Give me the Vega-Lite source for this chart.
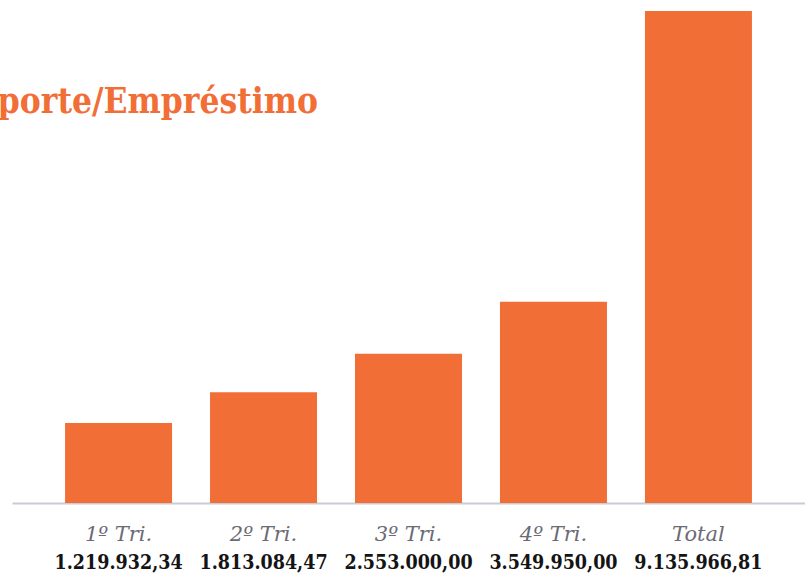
{
  "$schema": "https://vega.github.io/schema/vega-lite/v6.json",
  "width": 793,
  "height": 492,
  "autosize": {"type": "none"},
  "padding": {"left": 12, "top": 11, "right": 0, "bottom": 71},
  "background": "white",
  "config": {"view": {"stroke": null}},
  "title": {
    "text": "Aporte/Empréstimo",
    "anchor": "start",
    "align": "right",
    "frame": "group",
    "dx": 306,
    "dy": 137,
    "offset": 0,
    "baseline": "alphabetic",
    "font": "DejaVu Serif Condensed",
    "fontWeight": "bold",
    "fontSize": 35,
    "color": "#F26E37"
  },
  "data": {
    "values": [
      {"periodo": "1º Tri.", "valor": 1219932.34, "rotulo": "1.219.932,34"},
      {"periodo": "2º Tri.", "valor": 1813084.47, "rotulo": "1.813.084,47"},
      {"periodo": "3º Tri.", "valor": 2553000.00, "rotulo": "2.553.000,00"},
      {"periodo": "4º Tri.", "valor": 3549950.00, "rotulo": "3.549.950,00"},
      {"periodo": "Total", "valor": 9135966.81, "rotulo": "9.135.966,81"}
    ]
  },
  "layer": [
    {
      "mark": {"type": "bar", "color": "#F26E37"},
      "encoding": {
        "x": {
          "field": "periodo",
          "type": "nominal",
          "sort": null,
          "scale": {"paddingInner": 0.262, "paddingOuter": 0.366},
          "axis": {
            "orient": "bottom",
            "title": null,
            "labelAngle": 0,
            "ticks": false,
            "domainColor": "#c9ccd1",
            "domainWidth": 2,
            "labelFont": "DejaVu Serif",
            "labelFontStyle": "italic",
            "labelFontSize": 21,
            "labelColor": "#6b6b76",
            "labelPadding": 20,
            "labelOverlap": false,
            "labelLimit": 300
          }
        },
        "y": {
          "field": "valor",
          "type": "quantitative",
          "scale": {"domain": [-317000, 9136000], "zero": false, "nice": false},
          "axis": null
        },
        "y2": {"datum": -317000}
      }
    },
    {
      "mark": {"type": "bar", "opacity": 0},
      "encoding": {
        "x": {
          "field": "rotulo",
          "type": "nominal",
          "sort": null,
          "scale": {"paddingInner": 0.262, "paddingOuter": 0.366},
          "axis": {
            "orient": "bottom",
            "title": null,
            "labelAngle": 0,
            "ticks": false,
            "domain": false,
            "labelFont": "DejaVu Serif Condensed",
            "labelFontWeight": "bold",
            "labelFontSize": 19.5,
            "labelColor": "#141414",
            "labelPadding": 50,
            "labelOverlap": false,
            "labelLimit": 300
          }
        },
        "y": {"field": "valor", "type": "quantitative", "axis": null}
      }
    }
  ],
  "resolve": {"scale": {"x": "independent"}, "axis": {"x": "independent"}}
}
